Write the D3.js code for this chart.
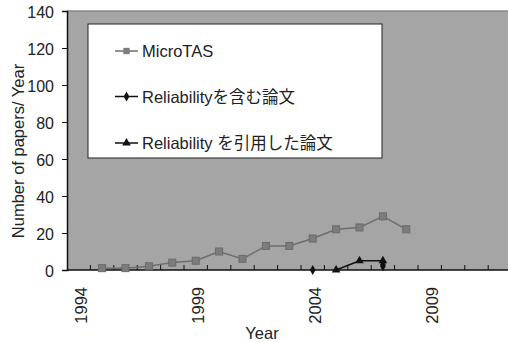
<!DOCTYPE html>
<html><head><meta charset="utf-8">
<script src="https://cdn.jsdelivr.net/npm/d3@7"></script>
<style>
body{margin:0;background:#fff;}
text{font-family:"Liberation Sans","Noto Sans CJK JP",sans-serif;fill:#222;}
</style></head>
<body>
<svg id="c" width="508" height="342"></svg>
<script>
const categories = d3.range(1994, 2013);
const tickLabels = [1994, 1999, 2004, 2009];
const yTicks = [0, 20, 40, 60, 80, 100, 120, 140];
const microYears = [1995,1996,1997,1998,1999,2000,2001,2002,2003,2004,2005,2006,2007,2008];
const microValues = [1,1,2,4,5,10,6,13,13,17,22,23,29,22];
const includeYears = [2004, 2007, 2007];
const includeValues = [0, 3, 2];
const citeYears = [2005, 2006, 2007];
const citeValues = [0, 5, 5];
const seriesNames = ["MicroTAS", "Reliabilityを含む論文", "Reliability を引用した論文"];

const svg = d3.select("#c");
const L = 67, T = 11, B = 270, R = 511.6;
const x = d3.scaleBand().domain(categories).range([L, R]).padding(0);
const y = d3.scaleLinear().domain([0, 140]).range([B, T]);
const cx = d => x(d) + x.bandwidth() / 2;

svg.append("rect").attr("x", L).attr("y", T).attr("width", R - L).attr("height", B - T).attr("fill", "#a5a5a5");
svg.append("line").attr("x1", L).attr("x2", 508).attr("y1", T).attr("y2", T).attr("stroke", "#8a8a8a").attr("stroke-width", 1.5);

// y axis
const ya = svg.append("g").attr("transform", `translate(${L},0)`)
  .call(d3.axisLeft(y).tickValues(yTicks).tickSize(5).tickPadding(8));
ya.select(".domain").attr("stroke", "#111").attr("stroke-width", 1.5);
ya.selectAll(".tick line").attr("stroke", "#111");
ya.selectAll(".tick text").attr("font-size", 16).attr("fill", "#333").attr("dy", "0.4em");

// x axis: ticks at category boundaries (inside), labels every 5 years
const bounds = categories.slice(1).map(c => x(c));
const xg = svg.append("g");
xg.append("line").attr("x1", L).attr("x2", 508).attr("y1", B).attr("y2", B).attr("stroke", "#111").attr("stroke-width", 1.5);
xg.selectAll("line.t").data(bounds).join("line").attr("class", "t")
  .attr("x1", d => d).attr("x2", d => d).attr("y1", B).attr("y2", B - 5).attr("stroke", "#111");
xg.selectAll("text").data(tickLabels).join("text")
  .attr("transform", d => `translate(${cx(d) + 8},${287}) rotate(-90)`)
  .attr("text-anchor", "end").attr("font-size", 16.5).attr("fill", "#333").text(d => d);

svg.append("text").attr("x", 262).attr("y", 339).attr("text-anchor", "middle").attr("font-size", 16.5).attr("fill", "#333").text("Year");
svg.append("text").attr("transform", "translate(24,151) rotate(-90)").attr("text-anchor", "middle").attr("font-size", 16.5).attr("fill", "#333").text("Number of papers/ Year");

// series
const line = d3.line().x(d => cx(d[0])).y(d => y(d[1]));
const micro = microYears.map((yr, i) => [yr, microValues[i]]);
svg.append("path").attr("d", line(micro)).attr("fill", "none").attr("stroke", "#6e6e6e").attr("stroke-width", 1.5);
svg.selectAll("rect.m").data(micro).join("rect").attr("class", "m")
  .attr("x", d => cx(d[0]) - 3.5).attr("y", d => y(d[1]) - 3.5).attr("width", 7).attr("height", 7)
  .attr("fill", "#7c7c7c").attr("stroke", "#6a6a6a").attr("stroke-width", 1);

const cite = citeYears.map((yr, i) => [yr, citeValues[i]]);
svg.append("path").attr("d", line(cite)).attr("fill", "none").attr("stroke", "#111").attr("stroke-width", 1.5);
const tri = d3.symbol().type(d3.symbolTriangle).size(32);
svg.selectAll("path.tr").data(cite).join("path").attr("class", "tr")
  .attr("transform", d => `translate(${cx(d[0])},${y(d[1])})`).attr("d", tri).attr("fill", "#111");

const inc = includeYears.map((yr, i) => [yr, includeValues[i]]);
const dia = d3.symbol().type(d3.symbolDiamond).size(28);
svg.selectAll("path.di").data(inc).join("path").attr("class", "di")
  .attr("transform", d => `translate(${cx(d[0])},${y(d[1])})`).attr("d", dia).attr("fill", "#111");

// legend
const lg = svg.append("g");
lg.append("rect").attr("x", 88).attr("y", 24).attr("width", 294).attr("height", 134).attr("fill", "#fff").attr("stroke", "#222").attr("stroke-width", 1);
const rows = [51, 96.5, 143];
const markers = [
  d3.symbol().type(d3.symbolSquare).size(40),
  d3.symbol().type(d3.symbolDiamond).size(28),
  d3.symbol().type(d3.symbolTriangle).size(32)
];
const colors = ["#7c7c7c", "#111", "#111"];
seriesNames.forEach((n, i) => {
  lg.append("line").attr("x1", 115).attr("x2", 138).attr("y1", rows[i]).attr("y2", rows[i]).attr("stroke", i === 0 ? "#6e6e6e" : "#111").attr("stroke-width", 1.5);
  lg.append("path").attr("transform", `translate(126.5,${rows[i]})`).attr("d", markers[i]()).attr("fill", colors[i]);
  lg.append("text").attr("x", 142).attr("y", rows[i] + 6).attr("font-size", 16.5).attr("fill", "#222").text(n);
});
</script>
</body></html>
